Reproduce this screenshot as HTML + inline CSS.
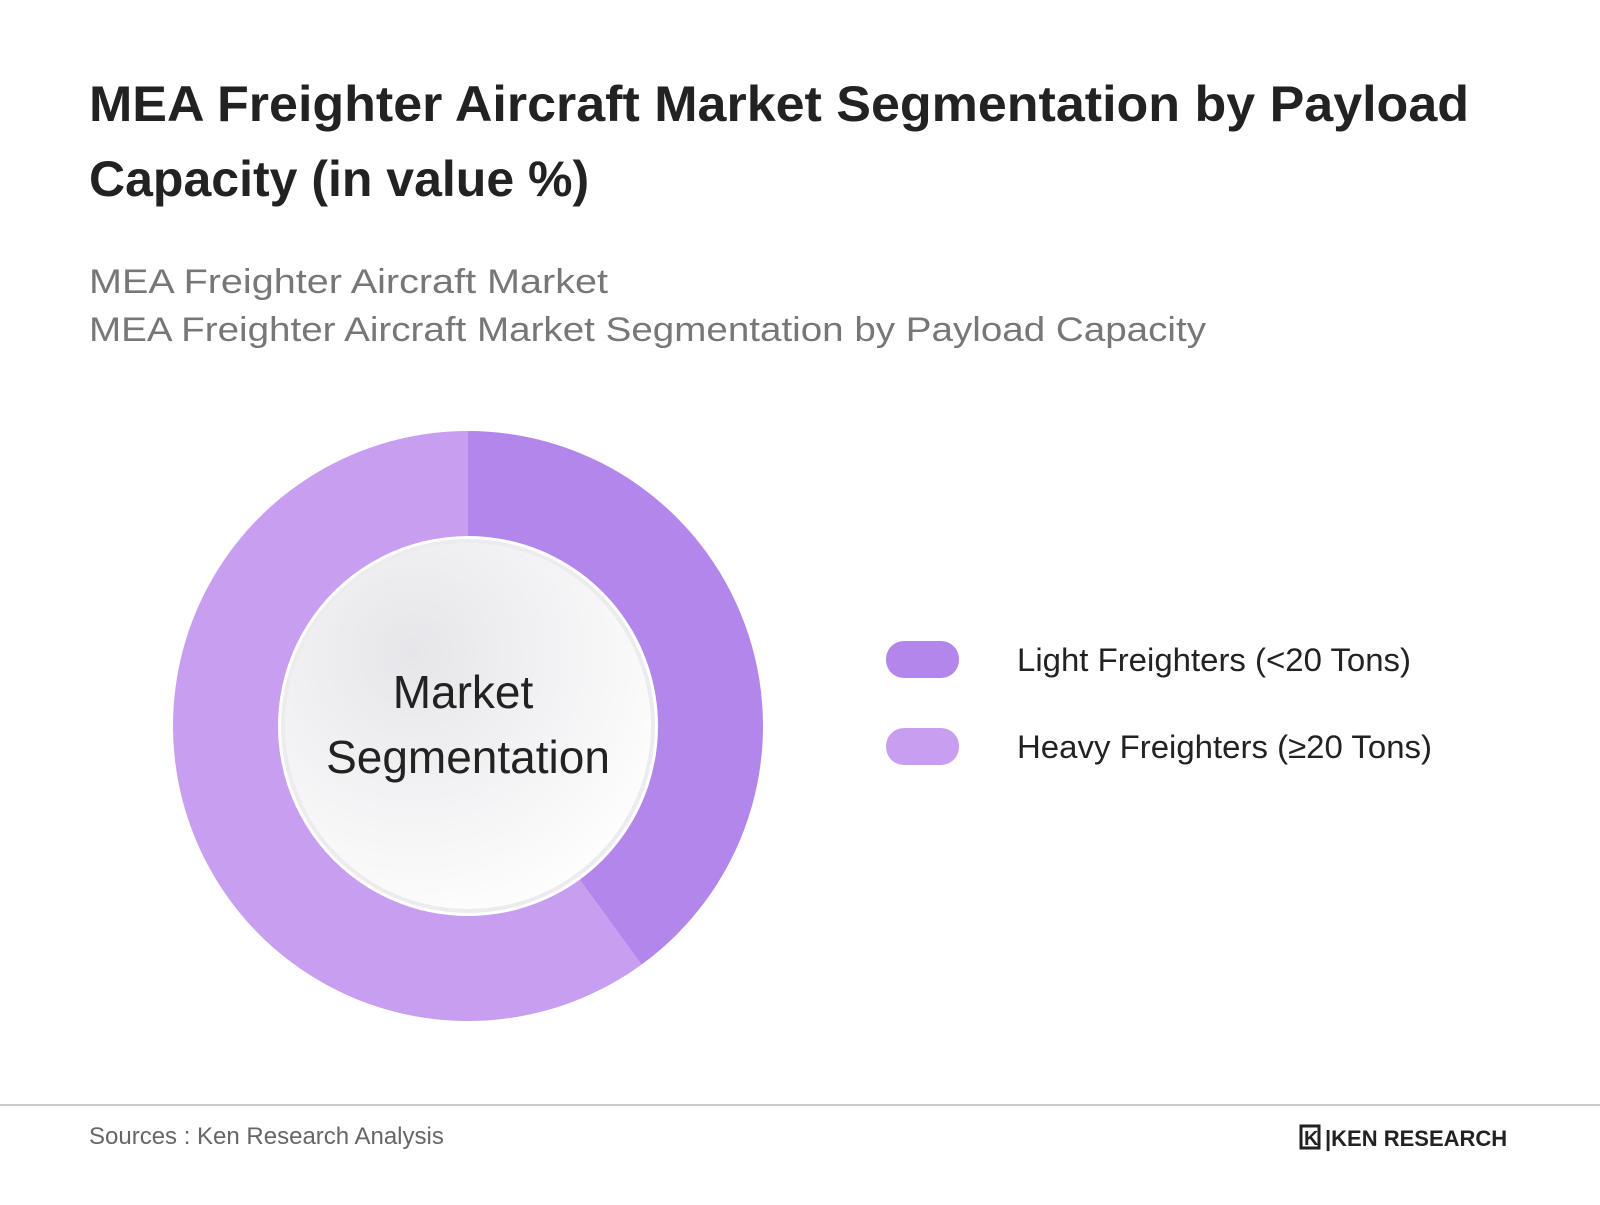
<!DOCTYPE html>
<html><head><meta charset="utf-8"><style>
body{margin:0;width:1600px;height:1200px;background:#fff;font-family:"Liberation Sans",sans-serif;overflow:hidden}
</style></head><body>
<svg width="1600" height="1200" viewBox="0 0 1600 1200">
<defs>
<radialGradient id="hole" cx="35%" cy="30%" r="80%">
<stop offset="0" stop-color="#e6e6ea"/><stop offset="1" stop-color="#ffffff"/>
</radialGradient>
</defs>
<text x="89" y="121" font-size="50" font-weight="bold" fill="#222" textLength="1380" lengthAdjust="spacingAndGlyphs">MEA Freighter Aircraft Market Segmentation by Payload</text>
<text x="89" y="196" font-size="50" font-weight="bold" fill="#222">Capacity (in value %)</text>
<text x="89" y="293" font-size="34" fill="#777" textLength="519" lengthAdjust="spacingAndGlyphs">MEA Freighter Aircraft Market</text>
<text x="89" y="341" font-size="34" fill="#777" textLength="1117" lengthAdjust="spacingAndGlyphs">MEA Freighter Aircraft Market Segmentation by Payload Capacity</text>
<g id="donut"></g>
<circle cx="468" cy="726" r="187" fill="#ececf0"/>
<circle cx="468" cy="726" r="183" fill="url(#hole)"/>
<text x="463" y="708" font-size="46" fill="#222" text-anchor="middle">Market</text>
<text x="468" y="773" font-size="46" fill="#222" text-anchor="middle">Segmentation</text>
<g id="legend"></g>
<line x1="0" y1="1105" x2="1600" y2="1105" stroke="#ccc" stroke-width="2"/>
<text x="89" y="1144" font-size="24" fill="#666">Sources : Ken Research Analysis</text>
<g>
<rect x="1301" y="1126" width="18" height="22" fill="none" stroke="#222" stroke-width="3"/>
<text x="1304" y="1145" font-size="20" font-weight="bold" fill="#222">K</text>
<text x="1325" y="1146" font-size="22" font-weight="bold" fill="#222">|KEN RESEARCH</text>
</g>
</svg>
<script>
const categories=["Light Freighters (<20 Tons)","Heavy Freighters (≥20 Tons)"];
const values=[40,60];
const colors=["#b386eb","#c89ff0"];
const labelLengths=[394,415];
const cx=468,cy=726,R=295,r=190;
const ns="http://www.w3.org/2000/svg";
const g=document.getElementById('donut');
const total=values.reduce((a,b)=>a+b,0);
let a0=0;
function pt(a,rad){return [cx+rad*Math.sin(a),cy-rad*Math.cos(a)];}
values.forEach((v,i)=>{
const a1=a0+v/total*2*Math.PI;
const [x0,y0]=pt(a0,R),[x1,y1]=pt(a1,R),[x2,y2]=pt(a1,r),[x3,y3]=pt(a0,r);
const large=(a1-a0)>Math.PI?1:0;
const p=document.createElementNS(ns,'path');
p.setAttribute('d',`M${x0},${y0}A${R},${R} 0 ${large} 1 ${x1},${y1}L${x2},${y2}A${r},${r} 0 ${large} 0 ${x3},${y3}Z`);
p.setAttribute('fill',colors[i]);


g.appendChild(p);
a0=a1;
});
const lg=document.getElementById('legend');
categories.forEach((c,i)=>{
const y=641+i*87;
const s=document.createElementNS(ns,'rect');
s.setAttribute('x',886);s.setAttribute('y',y);s.setAttribute('width',73);s.setAttribute('height',37);s.setAttribute('rx',18);s.setAttribute('fill',colors[i]);


lg.appendChild(s);
const t=document.createElementNS(ns,'text');
t.setAttribute('x',1017);t.setAttribute('y',y+30);t.setAttribute('font-size',32);t.setAttribute('fill','#222');
t.setAttribute('textLength',labelLengths[i]);t.setAttribute('lengthAdjust','spacingAndGlyphs');
t.textContent=c;


lg.appendChild(t);
});
</script>
</body></html>
